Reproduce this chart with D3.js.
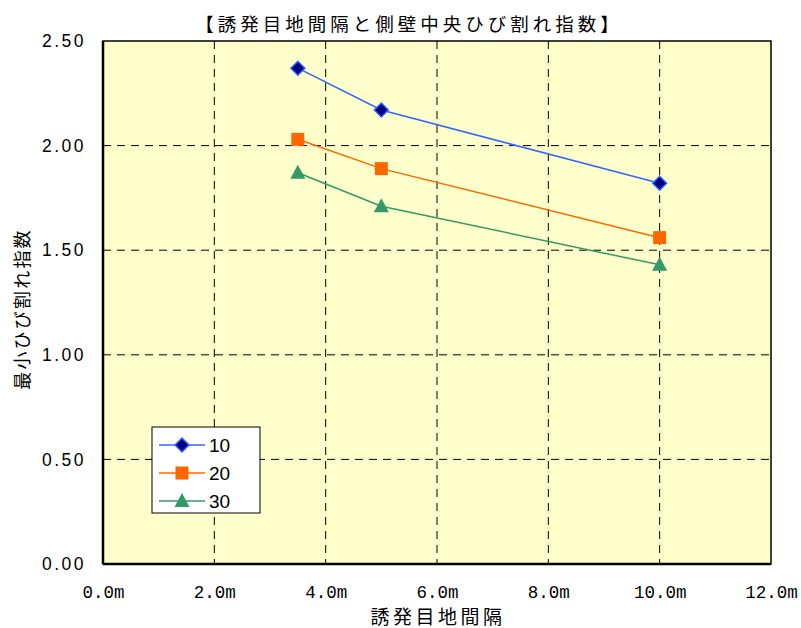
<!DOCTYPE html>
<html><head><meta charset="utf-8">
<script src="https://cdn.jsdelivr.net/npm/d3@7/dist/d3.min.js"></script>
<style>body{margin:0;background:#fff}</style>
</head><body><svg id="c" width="801" height="628"></svg>
<script>
const xValues = [3.5, 5, 10];
const seriesNames = ["10", "20", "30"];
const series10 = [2.37, 2.17, 1.82];
const series20 = [2.03, 1.89, 1.56];
const series30 = [1.87, 1.71, 1.43];
const xTicks = [0, 2, 4, 6, 8, 10, 12];
const yTicks = [0, 0.5, 1, 1.5, 2, 2.5];
const title = "【誘発目地間隔と側壁中央ひび割れ指数】";
const xTitle = "誘発目地間隔";
const yTitle = "最小ひび割れ指数";

const svg = d3.select("#c");
const L = 103, R = 771, T = 41, B = 564;
const x = d3.scaleLinear().domain([0, 12]).range([L, R]);
const y = d3.scaleLinear().domain([0, 2.5]).range([B, T]);
const jp = "'Noto Sans CJK JP', sans-serif";

svg.append("rect").attr("x", L).attr("y", T).attr("width", R - L).attr("height", B - T).attr("fill", "#FFFFCC");

// grid
const g = svg.append("g");
g.selectAll(".vg").data(xTicks.filter(d => d > 0 && d < 12)).join("line")
  .attr("x1", d => x(d)).attr("x2", d => x(d)).attr("y1", T).attr("y2", B)
  .attr("stroke", "#000").attr("stroke-width", 1).attr("stroke-dasharray", "8,6");
g.selectAll(".hg").data(yTicks.filter(d => d > 0 && d < 2.5)).join("line")
  .attr("x1", L).attr("x2", R).attr("y1", d => y(d)).attr("y2", d => y(d))
  .attr("stroke", "#000").attr("stroke-width", 1).attr("stroke-dasharray", "8,6");

svg.append("rect").attr("x", L).attr("y", T).attr("width", R - L).attr("height", B - T)
  .attr("fill", "none").attr("stroke", "#000").attr("stroke-width", 1.5);
svg.append("line").attr("x1", L).attr("x2", R).attr("y1", B).attr("y2", B).attr("stroke", "#000").attr("stroke-width", 2.5);
svg.append("line").attr("x1", L).attr("x2", L).attr("y1", T).attr("y2", B).attr("stroke", "#000").attr("stroke-width", 2.5);

// axes
const xa = svg.append("g").attr("transform", `translate(0,${B})`)
  .call(d3.axisBottom(x).tickValues(xTicks).tickSize(0).tickPadding(22).tickFormat(d => d.toFixed(1) + "m"));
xa.select(".domain").remove();
xa.selectAll("text").attr("font-family", "'Liberation Mono', monospace").attr("font-size", 17.5).attr("fill", "#000");

const ya = svg.append("g").attr("transform", `translate(${L},0)`)
  .call(d3.axisLeft(y).tickValues(yTicks).tickSize(0).tickPadding(17).tickFormat(d => d.toFixed(2)));
ya.select(".domain").remove();
ya.selectAll("text").attr("font-family", "'Liberation Sans', Arial, sans-serif").attr("font-size", 17.5)
  .attr("letter-spacing", "2.5px").attr("fill", "#000");

// titles
svg.append("text").attr("x", 409).attr("y", 31).attr("text-anchor", "middle")
  .attr("font-family", jp).attr("font-size", 18.5).attr("letter-spacing", "4px").text(title);
svg.append("text").attr("x", 438).attr("y", 624).attr("text-anchor", "middle")
  .attr("font-family", jp).attr("font-size", 19).attr("letter-spacing", "3.5px").text(xTitle);
svg.append("text").attr("transform", "translate(29,309) rotate(-90)").attr("text-anchor", "middle")
  .attr("font-family", jp).attr("font-size", 18).attr("letter-spacing", "2.2px").text(yTitle);

// series
const colors = ["#3366FF", "#FF6600", "#339966"];
const data = [series10, series20, series30];
const line = d3.line().x((d, i) => x(xValues[i])).y(d => y(d));

function marker(sel, k) {
  if (k === 0) {
    sel.append("path").attr("d", "M0,-7L7,0L0,7L-7,0Z").attr("fill", "#000080").attr("stroke", "#3366FF").attr("stroke-width", 1.5);
  } else if (k === 1) {
    sel.append("rect").attr("x", -6.5).attr("y", -6.5).attr("width", 13).attr("height", 13).attr("fill", "#FF6600");
  } else {
    sel.append("path").attr("d", "M0,-8L7.5,6L-7.5,6Z").attr("fill", "#339966");
  }
}

data.forEach((vals, k) => {
  svg.append("path").datum(vals).attr("d", line).attr("fill", "none").attr("stroke", colors[k]).attr("stroke-width", 1.5);
  vals.forEach((v, i) => {
    const m = svg.append("g").attr("transform", `translate(${x(xValues[i])},${y(v)})`);
    marker(m, k);
  });
});

// legend
const lg = svg.append("g").attr("transform", "translate(152,427)");
lg.append("rect").attr("width", 108).attr("height", 86).attr("fill", "#fff").attr("stroke", "#000").attr("stroke-width", 1);
seriesNames.forEach((n, k) => {
  const yy = 18 + k * 28;
  lg.append("line").attr("x1", 7).attr("x2", 53).attr("y1", yy).attr("y2", yy).attr("stroke", colors[k]).attr("stroke-width", 1.5);
  const m = lg.append("g").attr("transform", `translate(30,${yy})`);
  marker(m, k);
  lg.append("text").attr("x", 57).attr("y", yy + 7).attr("font-family", "'Liberation Sans', Arial, sans-serif")
    .attr("font-size", 19).text(n);
});
</script></body></html>
